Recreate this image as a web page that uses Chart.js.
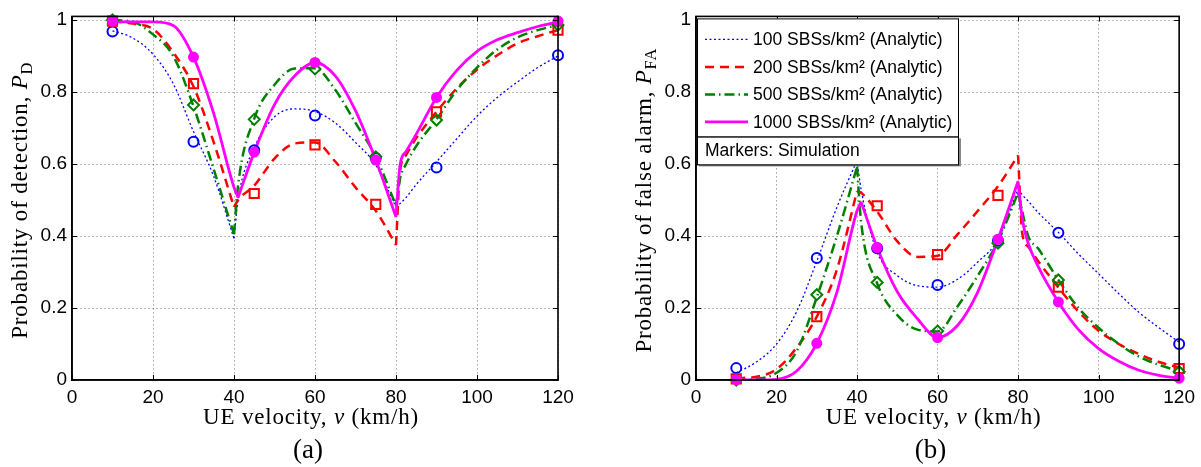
<!DOCTYPE html>
<html>
<head>
<meta charset="utf-8">
<script src="https://cdn.jsdelivr.net/npm/chart.js@4.4.0/dist/chart.umd.min.js"></script>
<style>
  body { margin: 0; background: #fff; width: 1201px; height: 467px; overflow: hidden; position: relative; }
  canvas { position: absolute; top: 0; }
  #chart-a { left: 0; }
  #chart-b { left: 600px; }
</style>
</head>
<body>
<canvas id="chart-a" width="600" height="467"></canvas>
<canvas id="chart-b" width="601" height="467"></canvas>
<script>
//AXES
let xTicks = [0, 20, 40, 60, 80, 100, 120];
let yTicks = [0, 0.2, 0.4, 0.6, 0.8, 1];

//VELOCITY GRID (km/h) FOR THE ANALYTIC CURVES
let velocity = [10, 15, 20, 25, 30, 35, 40, 41, 45, 50, 55, 60, 65, 70, 75, 80, 81, 82.5, 85, 90, 95, 100, 105, 110, 115, 120];
//VELOCITIES OF THE SIMULATION MARKERS
let simVelocity = [10, 30, 45, 60, 75, 90, 120];

let legendLabels = [
  '100 SBSs/km\u00B2 (Analytic)',
  '200 SBSs/km\u00B2 (Analytic)',
  '500 SBSs/km\u00B2 (Analytic)',
  '1000 SBSs/km\u00B2 (Analytic)'
];

//where the analytic curves have a sharp corner
let cusps = [[40, 80], [40, 80], [40, 80], [41, 80]];

//(a) PROBABILITY OF DETECTION
let pd100 = [0.97, 0.95, 0.905, 0.823, 0.69, 0.565, 0.393, 0.5, 0.645, 0.731, 0.753, 0.746, 0.714, 0.66, 0.597, 0.48, 0.49, 0.507, 0.543, 0.606, 0.67, 0.733, 0.785, 0.828, 0.868, 0.9];
let pd200 = [0.997, 0.99, 0.975, 0.91, 0.815, 0.66, 0.48, 0.5, 0.54, 0.615, 0.657, 0.66, 0.607, 0.535, 0.47, 0.375, 0.58, 0.625, 0.672, 0.745, 0.81, 0.862, 0.902, 0.935, 0.955, 0.972];
let pd500 = [1.0, 0.995, 0.96, 0.9, 0.76, 0.585, 0.405, 0.54, 0.726, 0.82, 0.865, 0.866, 0.806, 0.714, 0.62, 0.485, 0.56, 0.6, 0.65, 0.724, 0.805, 0.868, 0.918, 0.952, 0.972, 0.986];
let pd1000 = [0.995, 0.995, 0.995, 0.985, 0.897, 0.74, 0.535, 0.507, 0.633, 0.765, 0.845, 0.882, 0.845, 0.748, 0.611, 0.453, 0.597, 0.635, 0.683, 0.785, 0.86, 0.913, 0.945, 0.965, 0.982, 0.995];

let pdSim100 = [0.968, 0.662, 0.638, 0.735, 0.617, 0.59, 0.902];
let pdSim200 = [0.997, 0.823, 0.518, 0.653, 0.488, 0.745, 0.972];
let pdSim500 = [1.0, 0.764, 0.724, 0.864, 0.62, 0.722, 0.986];
let pdSim1000 = [0.997, 0.897, 0.633, 0.882, 0.611, 0.785, 0.997];

//(b) PROBABILITY OF FALSE ALARM
let pfa100 = [0.02, 0.05, 0.1, 0.19, 0.33, 0.48, 0.61, 0.53, 0.355, 0.29, 0.262, 0.258, 0.28, 0.328, 0.39, 0.53, 0.515, 0.497, 0.465, 0.41, 0.35, 0.295, 0.24, 0.188, 0.145, 0.105];
let pfa200 = [0.005, 0.009, 0.03, 0.09, 0.176, 0.307, 0.525, 0.52, 0.468, 0.385, 0.342, 0.345, 0.405, 0.47, 0.538, 0.624, 0.41, 0.37, 0.33, 0.257, 0.19, 0.137, 0.1, 0.072, 0.05, 0.035];
let pfa500 = [0.0, 0.003, 0.02, 0.08, 0.23, 0.4, 0.592, 0.44, 0.268, 0.18, 0.14, 0.135, 0.205, 0.29, 0.385, 0.52, 0.47, 0.4, 0.365, 0.278, 0.2, 0.145, 0.1, 0.065, 0.042, 0.025];
let pfa1000 = [0.0, 0.0, 0.002, 0.025, 0.102, 0.244, 0.47, 0.495, 0.368, 0.245, 0.17, 0.118, 0.152, 0.245, 0.391, 0.552, 0.45, 0.38, 0.315, 0.217, 0.14, 0.087, 0.052, 0.027, 0.013, 0.005];

let pfaSim100 = [0.033, 0.339, 0.366, 0.264, 0.387, 0.409, 0.1];
let pfaSim200 = [0.003, 0.176, 0.484, 0.348, 0.513, 0.258, 0.032];
let pfaSim500 = [0.0, 0.237, 0.271, 0.136, 0.38, 0.278, 0.023];
let pfaSim1000 = [0.001, 0.102, 0.368, 0.118, 0.391, 0.217, 0.005];


//STYLES
let seriesStyle = [
  { color: '#0000ff', width: 1.3, dash: [2, 2.5], marker: 'circle', radius: 5, fill: false },
  { color: '#ff0000', width: 2.5, dash: [9, 6], marker: 'rect', radius: 6.5, fill: false },
  { color: '#008000', width: 2.5, dash: [10, 4, 1.5, 4], marker: 'rectRot', radius: 5.5, fill: false },
  { color: '#ff00ff', width: 2.8, dash: [], marker: 'circle', radius: 4.5, fill: true }
];

let tickFont = { family: '"Liberation Sans", Arial, sans-serif', size: 19 };
let serif = '"Liberation Serif", "Times New Roman", serif';


//a gap (null) at every cusp keeps the corner sharp with monotone curves
function analyticPoints(values, cuspList) {
  let pts = [];
  velocity.forEach((v, i) => {
    pts.push({ x: v, y: values[i] });
    if (cuspList.includes(v)) {
      pts.push({ x: v, y: null });
      pts.push({ x: v, y: values[i] });
    }
  });
  return pts;
}

//TEXT WITH ITALIC / SUBSCRIPT PARTS
function drawRich(ctx, parts, size) {
  let fontOf = p => (p[1] === 'i' ? 'italic ' : '') + (p[1] === 'sub' ? size * 0.72 : size) + 'px ' + serif;
  let total = 0;
  parts.forEach(p => { ctx.font = fontOf(p); total += ctx.measureText(p[0]).width; });
  let x = -total / 2;
  parts.forEach(p => {
    ctx.font = fontOf(p);
    ctx.fillText(p[0], x, p[1] === 'sub' ? size * 0.22 : 0);
    x += ctx.measureText(p[0]).width;
  });
}

//BOX + INWARD TICKS
let framePlugin = {
  id: 'frame',
  afterDatasetsDraw(chart) {
    let { ctx, chartArea: a, scales } = chart;
    ctx.save();
    ctx.strokeStyle = '#000';
    ctx.lineWidth = 1;
    ctx.beginPath();
    scales.x.ticks.forEach(t => {
      let px = Math.round(scales.x.getPixelForValue(t.value)) + 0.5;
      ctx.moveTo(px, a.bottom); ctx.lineTo(px, a.bottom - 5);
      ctx.moveTo(px, a.top); ctx.lineTo(px, a.top + 5);
    });
    scales.y.ticks.forEach(t => {
      let py = Math.round(scales.y.getPixelForValue(t.value)) + 0.5;
      ctx.moveTo(a.left, py); ctx.lineTo(a.left + 5, py);
      ctx.moveTo(a.right, py); ctx.lineTo(a.right - 5, py);
    });
    ctx.stroke();
    ctx.lineWidth = 1.6;
    ctx.strokeRect(a.left, a.top, a.right - a.left, a.bottom - a.top);
    ctx.restore();
  }
};

//AXIS TITLES + PANEL LABEL
let titlePlugin = {
  id: 'titles',
  afterDraw(chart, args, opts) {
    let { ctx, chartArea: a } = chart;
    let cx = (a.left + a.right) / 2;
    ctx.save();
    ctx.fillStyle = '#000';
    ctx.textBaseline = 'alphabetic';
    ctx.letterSpacing = '0.8px';

    ctx.save();
    ctx.translate(cx - 4, a.bottom + 44);
    drawRich(ctx, opts.xTitle, 23);
    ctx.restore();

    ctx.save();
    ctx.translate(a.left - 45, (a.top + a.bottom) / 2 + 2);
    ctx.rotate(-Math.PI / 2);
    drawRich(ctx, opts.yTitle, 23);
    ctx.restore();

    ctx.letterSpacing = '0px';
    ctx.save();
    ctx.translate(cx - 7, a.bottom + 78);
    drawRich(ctx, [[opts.panel, '']], 27);
    ctx.restore();
    ctx.restore();
  }
};

//LEGEND IN A BOX
let boxLegendPlugin = {
  id: 'boxLegend',
  afterDraw(chart, args, opts) {
    if (!opts.display) return;
    let { ctx, chartArea: a } = chart;
    let left = a.left + 1, top = a.top + 2, w = 261, h = 118;
    ctx.save();
    ctx.font = '17.5px "Liberation Sans", Arial, sans-serif';
    ctx.textBaseline = 'middle';

    //markers note, under the main box
    ctx.fillStyle = '#888';
    ctx.fillRect(left + 2, top + h + 2, w + 1, 28);
    ctx.fillStyle = '#fff';
    ctx.fillRect(left, top + h, w, 28);
    ctx.strokeStyle = '#000';
    ctx.lineWidth = 1;
    ctx.strokeRect(left + 0.5, top + h + 0.5, w, 28);
    ctx.fillStyle = '#000';
    ctx.fillText('Markers: Simulation', left + 8, top + h + 15);

    ctx.fillStyle = '#fff';
    ctx.fillRect(left, top, w, h);
    ctx.strokeRect(left + 0.5, top + 0.5, w, h);

    for (let i = 0; i < 4; i++) {
      let ds = chart.data.datasets[i];
      let y = top + 21 + i * 27.5;
      ctx.save();
      ctx.strokeStyle = ds.borderColor;
      ctx.lineWidth = ds.borderWidth;
      ctx.setLineDash(ds.borderDash);
      ctx.beginPath();
      ctx.moveTo(left + 8, y);
      ctx.lineTo(left + 51, y);
      ctx.stroke();
      ctx.restore();
      ctx.fillStyle = '#000';
      ctx.fillText(ds.label, left + 56, y + 1);
    }
    ctx.restore();
  }
};


//BUILD ONE PANEL
function makePanel(canvasId, analytic, sims, opts) {
  let datasets = [];

  analytic.forEach((values, i) => {
    let st = seriesStyle[i];
    datasets.push({
      label: legendLabels[i],
      data: analyticPoints(values, cusps[i]),
      borderColor: st.color,
      borderWidth: st.width,
      borderDash: st.dash,
      pointRadius: 0,
      fill: false,
      spanGaps: false,
      cubicInterpolationMode: 'monotone',
      order: 10 - i
    });
  });

  sims.forEach((values, i) => {
    let st = seriesStyle[i];
    datasets.push({
      label: 'Simulation',
      data: simVelocity.map((v, k) => ({ x: v, y: values[k] })),
      showLine: false,
      pointStyle: st.marker,
      pointRadius: st.radius,
      pointBorderWidth: 2,
      pointBorderColor: st.color,
      pointBackgroundColor: st.fill ? st.color : 'rgba(0,0,0,0)',
      clip: false,
      order: 5 - i
    });
  });

  let gridOpts = { color: 'rgba(0,0,0,0.55)', lineWidth: 1, drawTicks: false };
  let borderOpts = { color: '#000', width: 1.6, dash: [1, 3] };

  return new Chart(document.getElementById(canvasId), {
    type: 'line',
    data: { datasets: datasets },
    options: {
      responsive: false,
      animation: false,
      devicePixelRatio: 1,
      events: [],
      layout: { padding: opts.padding },
      plugins: {
        legend: { display: false },
        tooltip: { enabled: false },
        titles: { xTitle: opts.xTitle, yTitle: opts.yTitle, panel: opts.panel },
        boxLegend: { display: opts.legend }
      },
      scales: {
        x: {
          type: 'linear',
          min: 0,
          max: 120,
          afterBuildTicks: s => { s.ticks = xTicks.map(v => ({ value: v })); },
          afterFit: s => { s.height = 87; },
          grid: gridOpts,
          border: borderOpts,
          ticks: { font: tickFont, color: '#000', padding: 6, maxRotation: 0, autoSkip: false, callback: v => String(v) }
        },
        y: {
          type: 'linear',
          min: 0,
          max: 1.01,
          afterBuildTicks: s => { s.ticks = yTicks.map(v => ({ value: v })); },
          afterFit: s => { s.width = opts.yWidth; },
          grid: gridOpts,
          border: borderOpts,
          ticks: { font: tickFont, color: '#000', padding: 5, autoSkip: false, callback: v => String(v) }
        }
      }
    },
    plugins: [framePlugin, titlePlugin, boxLegendPlugin]
  });
}

makePanel('chart-a', [pd100, pd200, pd500, pd1000], [pdSim100, pdSim200, pdSim500, pdSim1000], {
  padding: { left: 0, right: 42, top: 7, bottom: 0 },
  yWidth: 72,
  xTitle: [['UE velocity, ', ''], ['v', 'i'], [' (km/h)', '']],
  yTitle: [['Probability of detection, ', ''], ['P', 'i'], ['D', 'sub']],
  panel: '(a)',
  legend: false
});

makePanel('chart-b', [pfa100, pfa200, pfa500, pfa1000], [pfaSim100, pfaSim200, pfaSim500, pfaSim1000], {
  padding: { left: 0, right: 21, top: 7, bottom: 0 },
  yWidth: 96,
  xTitle: [['UE velocity, ', ''], ['v', 'i'], [' (km/h)', '']],
  yTitle: [['Probability of false alarm, ', ''], ['P', 'i'], ['FA', 'sub']],
  panel: '(b)',
  legend: true
});
</script>
</body>
</html>
